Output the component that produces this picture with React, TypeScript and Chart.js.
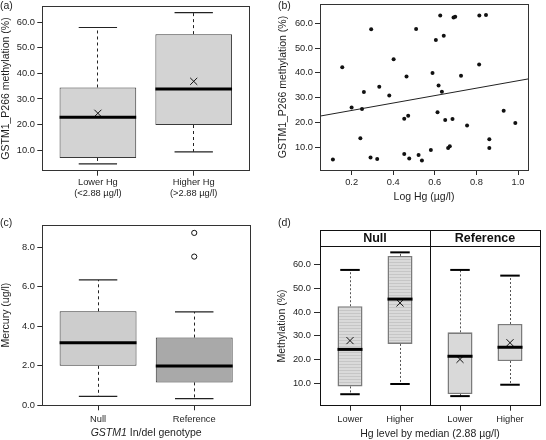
import React, { useEffect, useRef } from 'react';
import { Chart, registerables } from 'chart.js';

Chart.register(...registerables);

const FONT = '"Liberation Sans", Arial, Helvetica, sans-serif';
const INK = '#1e1e1e';
const TICK_FONT = { family: FONT, size: 9.3, lineHeight: 1.15 };
const TITLE_FONT = { family: FONT, size: 10.5, lineHeight: 1.2 };

// ---------- (a) methylation by Hg group ----------
const A_GROUPS = ['Lower Hg', 'Higher Hg'];
const A_GROUP_NOTES = ['(<2.88 µg/l)', '(>2.88 µg/l)'];
const A_WHISKER_LOW = [4.6, 9.3];
const A_Q1 = [6.9, 19.8];
const A_MEDIAN = [22.8, 33.9];
const A_Q3 = [34.5, 55.4];
const A_WHISKER_HIGH = [58.0, 63.8];
const A_MEAN = [24.4, 36.9];
const A_Y_TICKS = [10, 20, 30, 40, 50, 60];

// ---------- (b) methylation vs log Hg ----------
const B_LOG_HG = [
  0.11, 0.155, 0.2, 0.25, 0.259, 0.242, 0.291, 0.294, 0.323, 0.333, 0.381, 0.402,
  0.464, 0.453, 0.472, 0.453, 0.477, 0.522, 0.538, 0.581, 0.51, 0.605, 0.589, 0.618,
  0.613, 0.626, 0.643, 0.634, 0.65, 0.685, 0.69, 0.698, 0.814, 0.846, 0.813, 0.726,
  0.755, 0.931, 0.987, 0.862, 0.862, 0.664, 0.672,
];
const B_METHYLATION = [
  5.0, 42.3, 26.0, 25.4, 32.3, 13.6, 5.8, 57.6, 5.2, 34.4, 30.8, 45.5,
  38.5, 21.5, 22.7, 7.2, 5.4, 6.8, 4.6, 8.8, 57.7, 53.3, 39.9, 34.9,
  24.1, 63.2, 55.0, 32.4, 20.9, 21.4, 62.3, 62.7, 63.2, 63.4, 43.4, 38.8,
  18.7, 24.7, 19.7, 13.2, 9.6, 9.6, 10.3,
];
const B_FIT_INTERCEPT = 21.8;
const B_FIT_SLOPE = 15.0;
const B_X_TICKS = [0.2, 0.4, 0.6, 0.8, 1.0];
const B_Y_TICKS = [10, 20, 30, 40, 50, 60];

// ---------- (c) mercury by genotype ----------
const C_GENOTYPES = ['Null', 'Reference'];
const C_WHISKER_LOW = [0.45, 0.34];
const C_Q1 = [2.0, 1.16];
const C_MEDIAN = [3.17, 1.99];
const C_Q3 = [4.76, 3.43];
const C_WHISKER_HIGH = [6.35, 4.73];
const C_OUTLIER_GROUP = [1, 1];
const C_OUTLIERS = [8.73, 7.53];
const C_Y_TICKS = [0, 2, 4, 6, 8];

// ---------- (d) methylation by genotype x Hg level ----------
const D_PANELS = ['Null', 'Reference'];
const D_LEVELS = ['Lower', 'Higher'];
const D_WHISKER_LOW = [5.4, 9.7, 4.6, 9.4];
const D_Q1 = [8.7, 26.6, 5.5, 19.4];
const D_MEDIAN = [24.3, 45.5, 21.4, 25.2];
const D_Q3 = [42.5, 63.7, 31.5, 35.0];
const D_WHISKER_HIGH = [57.8, 65.2, 57.8, 55.4];
const D_MEAN = [28.0, 43.9, 20.1, 27.1];
const D_Y_TICKS = [10, 20, 30, 40, 50, 60];

const PANEL_W = 273;
const PANEL_H = 220;
const D_SPAN = 2.2; // lattice factor panel range (0.4 .. 2.6)

type Stats = { low: number[]; q1: number[]; med: number[]; q3: number[]; high: number[] };
type BoxStyle = {
  whiskerColor: string; whiskerWidth: number; whiskerDash: number[];
  capColor: string; capWidth: number; capRatio: number;
  medianColor: string; medianWidth: number;
};

function fmt1(v: any) {
  return Number(v).toFixed(1);
}

function yAxis(c: { min: number; max: number; ticks: number[]; width: number; title: string; titlePad: number; tickLength: number; padding: number }) {
  return {
    type: 'linear', position: 'left', min: c.min, max: c.max, bounds: 'data', offset: false,
    afterBuildTicks: (s: any) => { s.ticks = c.ticks.map((value) => ({ value })); },
    afterFit: (s: any) => { s.width = c.width; s.paddingTop = 0; s.paddingBottom = 0; },
    grid: { display: true, drawOnChartArea: false, drawTicks: true, tickLength: c.tickLength, color: '#2a2a2a', lineWidth: 1, offset: false },
    border: { display: false },
    ticks: { autoSkip: false, padding: c.padding, color: INK, font: TICK_FONT, callback: (v: any) => fmt1(v) },
    title: { display: true, text: c.title, color: INK, font: TITLE_FONT, padding: { top: c.titlePad, bottom: 0 } },
  };
}

function xAxis(c: { min: number; max: number; ticks: number[]; height: number; labels: (v: number, i: number) => any; tickLength: number; padding: number; title?: string; titleBottom?: number }) {
  return {
    type: 'linear', position: 'bottom', min: c.min, max: c.max, bounds: 'data', offset: false,
    afterBuildTicks: (s: any) => { s.ticks = c.ticks.map((value) => ({ value })); },
    afterFit: (s: any) => { s.height = c.height; s.paddingLeft = 0; s.paddingRight = 0; },
    grid: { display: true, drawOnChartArea: false, drawTicks: true, tickLength: c.tickLength, color: '#2a2a2a', lineWidth: 1, offset: false },
    border: { display: false },
    ticks: { autoSkip: false, maxRotation: 0, minRotation: 0, padding: c.padding, color: INK, font: TICK_FONT, callback: (v: any, i: number) => c.labels(Number(v), i) },
    title: c.title
      ? { display: true, text: c.title, color: INK, font: TITLE_FONT, padding: { top: 0, bottom: c.titleBottom ?? 0 } }
      : { display: false },
  };
}

function crisp(v: number) {
  return Math.round(v - 0.5) + 0.5;
}

function boxPartsPlugin(stats: Stats, style: BoxStyle, barIndex: number) {
  return {
    id: 'boxParts',
    beforeDatasetsDraw(chart: any) {
      const meta = chart.getDatasetMeta(barIndex);
      const ys = chart.scales.y;
      const ctx = chart.ctx;
      ctx.save();
      ctx.strokeStyle = style.whiskerColor;
      ctx.lineWidth = style.whiskerWidth;
      ctx.setLineDash(style.whiskerDash);
      meta.data.forEach((el: any, i: number) => {
        const x = crisp(el.x);
        ctx.beginPath();
        ctx.moveTo(x, ys.getPixelForValue(stats.q3[i]));
        ctx.lineTo(x, ys.getPixelForValue(stats.high[i]));
        ctx.stroke();
        ctx.beginPath();
        ctx.moveTo(x, ys.getPixelForValue(stats.q1[i]));
        ctx.lineTo(x, ys.getPixelForValue(stats.low[i]));
        ctx.stroke();
      });
      ctx.restore();
    },
    afterDatasetsDraw(chart: any) {
      const meta = chart.getDatasetMeta(barIndex);
      const ys = chart.scales.y;
      const ctx = chart.ctx;
      ctx.save();
      ctx.setLineDash([]);
      meta.data.forEach((el: any, i: number) => {
        const half = (el.width * style.capRatio) / 2;
        ctx.strokeStyle = style.capColor;
        ctx.lineWidth = style.capWidth;
        [stats.high[i], stats.low[i]].forEach((v) => {
          const y = ys.getPixelForValue(v);
          ctx.beginPath();
          ctx.moveTo(el.x - half, y);
          ctx.lineTo(el.x + half, y);
          ctx.stroke();
        });
        ctx.strokeStyle = style.medianColor;
        ctx.lineWidth = style.medianWidth;
        const ym = ys.getPixelForValue(stats.med[i]);
        ctx.beginPath();
        ctx.moveTo(el.x - el.width / 2, ym);
        ctx.lineTo(el.x + el.width / 2, ym);
        ctx.stroke();
      });
      ctx.restore();
    },
  };
}

function framePlugin(color: string) {
  return {
    id: 'frame',
    afterDatasetsDraw(chart: any) {
      const { left, right, top, bottom } = chart.chartArea;
      const ctx = chart.ctx;
      ctx.save();
      ctx.setLineDash([]);
      ctx.strokeStyle = color;
      ctx.lineWidth = 1;
      const x0 = crisp(left), x1 = crisp(right), y0 = crisp(top), y1 = crisp(bottom);
      ctx.strokeRect(x0, y0, x1 - x0, y1 - y0);
      ctx.restore();
    },
  };
}

const baseOptions = (padding: any) => ({
  responsive: false,
  animation: false,
  events: [],
  layout: { padding },
  plugins: { legend: { display: false }, tooltip: { enabled: false } },
});

// ---------- configs ----------
function configA(): any {
  const xs = A_GROUPS.map((_, i) => i + 1);
  const stats = { low: A_WHISKER_LOW, q1: A_Q1, med: A_MEDIAN, q3: A_Q3, high: A_WHISKER_HIGH };
  return {
    type: 'bar',
    data: {
      datasets: [
        {
          type: 'bar', grouped: false,
          data: xs.map((x, i) => ({ x, y: [A_Q1[i], A_Q3[i]] })),
          backgroundColor: '#d3d3d3', borderColor: '#3a3a3a', borderWidth: 1, borderSkipped: false,
          barPercentage: 0.8, categoryPercentage: 1,
        },
        {
          type: 'scatter', order: -1,
          data: xs.map((x, i) => ({ x, y: A_MEAN[i] })),
          pointStyle: 'crossRot', pointRadius: 5, borderColor: '#111', borderWidth: 1, backgroundColor: 'transparent',
        },
      ],
    },
    options: {
      ...baseOptions({ left: 0, right: 23.7, top: 6.3, bottom: 0 }),
      scales: {
        x: xAxis({ min: 0.42, max: 2.58, ticks: xs, height: 49.3, tickLength: 5, padding: 1.5,
          labels: (_v, i) => [A_GROUPS[i], A_GROUP_NOTES[i]] }),
        y: yAxis({ min: 1.9, max: 66.3, ticks: A_Y_TICKS, width: 42.3, title: 'GSTM1_P266 methylation (%)', titlePad: 0, tickLength: 5, padding: 2.5 }),
      },
    },
    plugins: [
      boxPartsPlugin(stats, { whiskerColor: '#222', whiskerWidth: 1, whiskerDash: [3, 3], capColor: '#222', capWidth: 1.2, capRatio: 0.5, medianColor: '#000', medianWidth: 3 }, 0),
      framePlugin('#333'),
    ],
  };
}

function configB(): any {
  const xMin = 0.048, xMax = 1.048;
  return {
    type: 'scatter',
    data: {
      datasets: [
        {
          data: B_LOG_HG.map((x, i) => ({ x, y: B_METHYLATION[i] })),
          pointRadius: 2, pointStyle: 'circle', backgroundColor: '#111', borderWidth: 0,
        },
        {
          data: [xMin, xMax].map((x) => ({ x, y: B_FIT_INTERCEPT + B_FIT_SLOPE * x })),
          showLine: true, pointRadius: 0, borderColor: '#222', borderWidth: 1, fill: false,
        },
      ],
    },
    options: {
      ...baseOptions({ left: 0, right: 18, top: 3.3, bottom: 0 }),
      scales: {
        x: xAxis({ min: xMin, max: xMax, ticks: B_X_TICKS, height: 50, tickLength: 5, padding: 2.2,
          labels: (v) => fmt1(v), title: 'Log Hg (µg/l)', titleBottom: 17 }),
        y: yAxis({ min: 0.75, max: 67.8, ticks: B_Y_TICKS, width: 47, title: 'GSTM1_P266 methylation (%)', titlePad: 3.7, tickLength: 5, padding: 2 }),
      },
    },
    plugins: [framePlugin('#333')],
  };
}

function configC(): any {
  const xs = C_GENOTYPES.map((_, i) => i + 1);
  const stats = { low: C_WHISKER_LOW, q1: C_Q1, med: C_MEDIAN, q3: C_Q3, high: C_WHISKER_HIGH };
  const titlePlugin = {
    id: 'italicTitle',
    afterDraw(chart: any) {
      const ctx = chart.ctx;
      const { left, right } = chart.chartArea;
      const cx = (left + right) / 2;
      const y = 213.3;
      const italic = `italic ${TITLE_FONT.size}px ${FONT}`;
      const normal = `${TITLE_FONT.size}px ${FONT}`;
      const p1 = 'GSTM1';
      const p2 = ' In/del genotype';
      ctx.save();
      ctx.font = italic;
      const w1 = ctx.measureText(p1).width;
      ctx.font = normal;
      const w2 = ctx.measureText(p2).width;
      const x0 = cx - (w1 + w2) / 2;
      ctx.fillStyle = INK;
      ctx.textBaseline = 'middle';
      ctx.textAlign = 'left';
      ctx.font = italic;
      ctx.fillText(p1, x0, y);
      ctx.font = normal;
      ctx.fillText(p2, x0 + w1, y);
      ctx.restore();
    },
  };
  return {
    type: 'bar',
    data: {
      datasets: [
        {
          type: 'bar', grouped: false,
          data: xs.map((x, i) => ({ x, y: [C_Q1[i], C_Q3[i]] })),
          backgroundColor: ['#cdcdcd', '#a9a9a9'], borderColor: '#333', borderWidth: 1, borderSkipped: false,
          barPercentage: 0.8, categoryPercentage: 1,
        },
        {
          type: 'scatter', order: -1,
          data: C_OUTLIERS.map((y, i) => ({ x: C_OUTLIER_GROUP[i] + 1, y })),
          pointStyle: 'circle', pointRadius: 2.6, borderColor: '#111', borderWidth: 1, backgroundColor: 'transparent',
        },
      ],
    },
    options: {
      ...baseOptions({ left: 0, right: 23, top: 5, bottom: 0 }),
      scales: {
        x: xAxis({ min: 0.42, max: 2.58, ticks: xs, height: 34.7, tickLength: 5, padding: 3.5,
          labels: (_v, i) => C_GENOTYPES[i] }),
        y: yAxis({ min: 0, max: 9.13, ticks: C_Y_TICKS, width: 42.3, title: 'Mercury (ug/l)', titlePad: 0, tickLength: 5, padding: 2.5 }),
      },
    },
    plugins: [
      boxPartsPlugin(stats, { whiskerColor: '#222', whiskerWidth: 1, whiskerDash: [3, 3], capColor: '#222', capWidth: 1.2, capRatio: 0.5, medianColor: '#000', medianWidth: 3 }, 0),
      framePlugin('#333'),
      titlePlugin,
    ],
  };
}

function configD(): any {
  const xs: number[] = [];
  D_PANELS.forEach((_, p) => D_LEVELS.forEach((_l, l) => xs.push(p * D_SPAN + l + 1)));
  const stats = { low: D_WHISKER_LOW, q1: D_Q1, med: D_MEDIAN, q3: D_Q3, high: D_WHISKER_HIGH };

  const tile = document.createElement('canvas');
  tile.width = 4;
  tile.height = 3;
  const tctx = tile.getContext('2d')!;
  tctx.fillStyle = '#dadada';
  tctx.fillRect(0, 0, 4, 3);
  tctx.fillStyle = '#c6c6c6';
  tctx.fillRect(0, 0, 4, 1);
  const hatch = tctx.createPattern(tile, 'repeat');

  const stripH = 16;
  const stripPlugin = {
    id: 'strip',
    afterDatasetsDraw(chart: any) {
      const ctx = chart.ctx;
      const { left, right, top, bottom } = chart.chartArea;
      const xs2 = chart.scales.x;
      const x0 = crisp(left), x1 = crisp(right), y1 = crisp(bottom), yt = crisp(top);
      const ys = crisp(top - stripH);
      ctx.save();
      ctx.setLineDash([]);
      ctx.fillStyle = '#fff';
      ctx.fillRect(x0, ys, x1 - x0, yt - ys);
      ctx.strokeStyle = '#111';
      ctx.lineWidth = 1;
      ctx.strokeRect(x0, ys, x1 - x0, y1 - ys);
      ctx.beginPath();
      ctx.moveTo(x0, yt);
      ctx.lineTo(x1, yt);
      const bounds: number[] = [xs2.min];
      D_PANELS.forEach((_, p) => bounds.push(xs2.min + (p + 1) * D_SPAN));
      for (let p = 1; p < D_PANELS.length; p++) {
        const xd = crisp(xs2.getPixelForValue(bounds[p]));
        ctx.moveTo(xd, ys);
        ctx.lineTo(xd, y1);
      }
      ctx.stroke();
      ctx.fillStyle = '#111';
      ctx.font = `bold 12.5px ${FONT}`;
      ctx.textAlign = 'center';
      ctx.textBaseline = 'middle';
      D_PANELS.forEach((name, p) => {
        const cx = (xs2.getPixelForValue(bounds[p]) + xs2.getPixelForValue(bounds[p + 1])) / 2;
        ctx.fillText(name, cx, (ys + yt) / 2 + 0.5);
      });
      ctx.restore();
    },
  };

  return {
    type: 'bar',
    data: {
      datasets: [
        {
          type: 'bar', grouped: false,
          data: xs.map((x, i) => ({ x, y: [D_Q1[i], D_Q3[i]] })),
          backgroundColor: xs.map((_, i) => (Math.floor(i / D_LEVELS.length) === 0 ? hatch : '#d9d9d9')),
          borderColor: '#7b7b7b', borderWidth: 1.6, borderSkipped: false,
          barPercentage: 0.5, categoryPercentage: 1,
        },
        {
          type: 'scatter', order: -1,
          data: xs.map((x, i) => ({ x, y: D_MEAN[i] })),
          pointStyle: 'crossRot', pointRadius: 5, borderColor: '#111', borderWidth: 1, backgroundColor: 'transparent',
        },
      ],
    },
    options: {
      ...baseOptions({ left: 0, right: 1, top: 26.3, bottom: 0 }),
      scales: {
        x: xAxis({ min: 0.4, max: 0.4 + D_PANELS.length * D_SPAN, ticks: xs, height: 34.3, tickLength: 5, padding: 3,
          labels: (_v, i) => D_LEVELS[i % D_LEVELS.length], title: 'Hg level by median (2.88 µg/l)', titleBottom: 0 }),
        y: yAxis({ min: 0.56, max: 67.76, ticks: D_Y_TICKS, width: 47, title: 'Methylation (%)', titlePad: 3, tickLength: 6, padding: 3 }),
      },
    },
    plugins: [
      boxPartsPlugin(stats, { whiskerColor: '#555', whiskerWidth: 1, whiskerDash: [2, 2], capColor: '#000', capWidth: 2, capRatio: 0.78, medianColor: '#000', medianWidth: 3 }, 0),
      stripPlugin,
    ],
  };
}

function ChartPanel({ left, top, make }: { left: number; top: number; make: () => any }) {
  const ref = useRef<HTMLCanvasElement>(null);
  useEffect(() => {
    const chart = new Chart(ref.current as HTMLCanvasElement, make());
    return () => chart.destroy();
  }, []);
  return (
    <canvas
      ref={ref}
      width={PANEL_W}
      height={PANEL_H}
      style={{ position: 'absolute', left, top, width: PANEL_W, height: PANEL_H }}
    />
  );
}

const labelStyle = (left: number, top: number): React.CSSProperties => ({
  position: 'absolute', left, top, fontFamily: FONT, fontSize: 10.5, lineHeight: '11px', color: INK,
});

export default function App() {
  return (
    <div style={{ position: 'absolute', left: 0, top: 0, width: 546, height: 440, background: '#fff', overflow: 'hidden' }}>
      <ChartPanel left={0} top={0} make={configA} />
      <ChartPanel left={273} top={0} make={configB} />
      <ChartPanel left={0} top={220} make={configC} />
      <ChartPanel left={273} top={220} make={configD} />
      <div style={labelStyle(0, -0.5)}>(a)</div>
      <div style={labelStyle(278, -0.5)}>(b)</div>
      <div style={labelStyle(0, 216.5)}>(c)</div>
      <div style={labelStyle(278, 216.5)}>(d)</div>
    </div>
  );
}
